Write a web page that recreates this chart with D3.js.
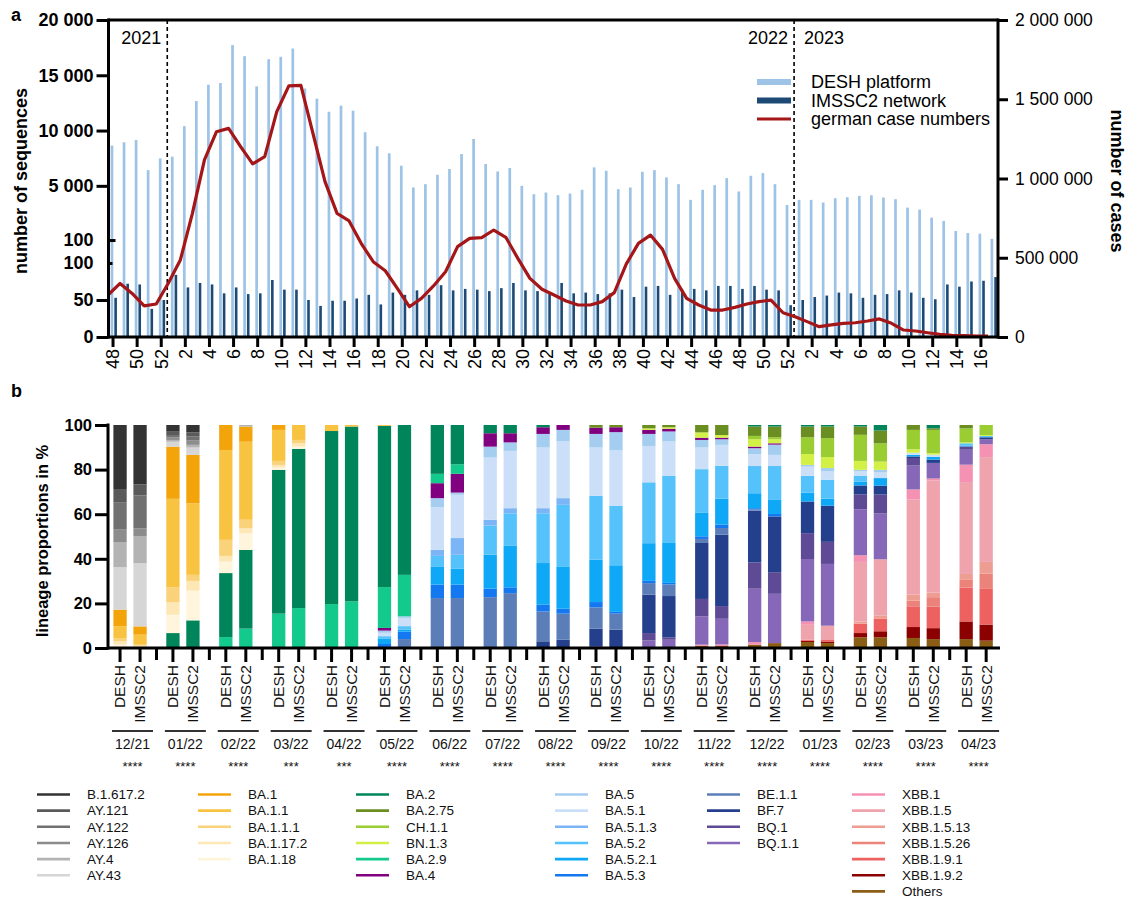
<!DOCTYPE html>
<html>
<head>
<meta charset="utf-8">
<script src="https://cdn.jsdelivr.net/npm/d3@7"></script>
<style>
  body { margin: 0; background: #fff; }
  svg { font-family: "Liberation Sans", Arial, sans-serif; }
</style>
</head>
<body>
<svg id="chart" width="1129" height="899"></svg>
<script>
// ---------- Panel a: weekly sequences and case numbers ----------
// calendar weeks: 2021 w48-52, 2022 w1-52, 2023 w1-17
const weekNumbers = [48,49,50,51,52,
  1,2,3,4,5,6,7,8,9,10,11,12,13,14,15,16,17,18,19,20,21,22,23,24,25,26,
  27,28,29,30,31,32,33,34,35,36,37,38,39,40,41,42,43,44,45,46,47,48,49,50,51,52,
  1,2,3,4,5,6,7,8,9,10,11,12,13,14,15,16,17];
const yearNames = ["2021", "2022", "2023"];

// sequences per week, DESH platform
const deshSequences = [8640,8940,9150,6420,7480,
  7640,10400,12670,14150,14300,17730,16730,14000,16450,16670,17420,13800,12880,11700,12250,11800,
  9850,8580,7940,6820,4850,5150,6000,6520,7880,9240,6970,6300,6610,5000,4240,4390,4150,4300,4640,
  6670,6360,4700,4850,6270,6420,5760,5150,3730,4640,5060,5700,4490,
  5910,6150,5150,3270,3730,3730,3490,3880,3970,4090,4150,3940,3790,3030,2850,2120,1820,910,730,670,210];

// sequences per week, IMSSC2 network
const imsscSequences = [53,72,71,38,50,
  84,67,73,71,59,67,58,59,77,64,64,50,42,49,49,52,
  57,44,60,57,63,57,70,63,65,64,62,66,73,63,62,58,73,59,60,
  58,59,64,54,68,69,57,63,65,63,69,69,65,
  69,64,63,43,50,54,56,60,59,53,57,58,63,60,53,51,71,68,75,76,81];

// reported weekly cases in Germany
const germanCases = [265000,338000,275000,196000,208000,
  339000,486000,780000,1117000,1295000,1316000,1201000,1092000,1138000,1422000,1584000,1588000,1285000,980000,780000,732000,
  591000,475000,418000,307000,191000,244000,322000,412000,570000,622000,627000,675000,629000,496000,370000,
  301000,265000,227000,202000,202000,223000,280000,461000,591000,643000,553000,370000,244000,202000,
  170000,170000,187000,208000,223000,233000,153000,128000,97000,65000,76000,86000,90000,101000,114000,
  86000,44000,38000,27000,17000,10500,8400,6300,5000];

const seqTicksUpper = [100, 5000, 10000, 15000, 20000];
const seqTicksLower = [0, 50, 100];
const caseTicks = [0, 500000, 1000000, 1500000, 2000000];

// ---------- Panel b: lineage proportions per month ----------
const lineages = ["B.1.617.2","AY.121","AY.122","AY.126","AY.4","AY.43",
  "BA.1","BA.1.1","BA.1.1.1","BA.1.17.2","BA.1.18",
  "BA.2","BA.2.75","CH.1.1","BN.1.3","BA.2.9","BA.4",
  "BA.5","BA.5.1","BA.5.1.3","BA.5.2","BA.5.2.1","BA.5.3",
  "BE.1.1","BF.7","BQ.1","BQ.1.1",
  "XBB.1","XBB.1.5","XBB.1.5.13","XBB.1.5.26","XBB.1.9.1","XBB.1.9.2","Others"];
const lineageColors = ["#333333","#5a5a5a","#717171","#8c8c8c","#b3b3b3","#d6d6d6",
  "#f3a40b","#f8c341","#fad27a","#fce7b5","#fef5dc",
  "#00855a","#6b8e23","#9acd32","#d2f046","#13c98b","#800080",
  "#a5cdf0","#cbe0f8","#7cb5f6","#56c2fb","#0ea8f6","#1479f1",
  "#5b7eb8","#243f8b","#5e4a95","#8767b8",
  "#f592b3","#eea3ad","#ee9d93","#eb837a","#ee6161","#8b0000","#8b5e16"];
const legendColumnSizes = [6, 5, 6, 6, 4, 7];

const months = ["12/21","01/22","02/22","03/22","04/22","05/22","06/22","07/22","08/22",
  "09/22","10/22","11/22","12/22","01/23","02/23","03/23","04/23"];
const significance = ["****","****","****","***","***","****","****","****","****",
  "****","****","****","****","****","****","****","****"];
const sources = ["DESH", "IMSSC2"];

// lineage shares in % per month, DESH
const deshShares = [
  {"B.1.617.2":28.7,"AY.121":5.9,"AY.122":12.1,"AY.126":5.8,"AY.4":11.2,"AY.43":19.1,"BA.1":7.5,"BA.1.1":5.2,"BA.1.1.1":1.5,"BA.1.17.2":1.5,"BA.1.18":1.5},
  {"B.1.617.2":3,"AY.121":1.5,"AY.122":1,"AY.126":1.2,"AY.4":0.8,"AY.43":2.2,"BA.1":23.4,"BA.1.1":39.7,"BA.1.1.1":6.6,"BA.1.17.2":5.7,"BA.1.18":8.2,"BA.2":6.7},
  {"BA.1":11.2,"BA.1.1":40.3,"BA.1.1.1":7.2,"BA.1.17.2":2.5,"BA.1.18":5.2,"BA.2":28.7,"BA.2.9":4.9},
  {"BA.1":2.2,"BA.1.1":13.9,"BA.1.1.1":1.8,"BA.1.17.2":1.2,"BA.1.18":1.0,"BA.2":64.5,"BA.2.9":15.4},
  {"BA.1.1":2.7,"BA.2":77.6,"BA.2.9":19.7},
  {"BA.1.1":0.4,"BA.2":72.3,"BA.2.9":18.3,"BA.4":1.2,"BA.5":1.0,"BA.5.1":1.5,"BA.5.2":1.0,"BA.5.2.1":2.5,"BA.5.3":1.5,"BE.1.1":0.3},
  {"BA.2":21.9,"BA.2.9":4.2,"BA.4":6.7,"BA.5":4.1,"BA.5.1":19.1,"BA.5.1.3":2.7,"BA.5.2":4.7,"BA.5.2.1":8.2,"BA.5.3":6.0,"BE.1.1":22.4},
  {"BA.2":3.7,"BA.4":6.0,"BA.5":4.9,"BA.5.1":27.9,"BA.5.1.3":2.6,"BA.5.2":13.1,"BA.5.2.1":15.2,"BA.5.3":3.8,"BE.1.1":22.8},
  {"BA.2":1.0,"BA.4":3.0,"BA.5":6.1,"BA.5.1":27.2,"BA.5.1.3":2.3,"BA.5.2":22.3,"BA.5.2.1":18.7,"BA.5.3":3.0,"BE.1.1":13.4,"BF.7":3.0},
  {"BA.2.75":1.2,"BA.4":2.8,"BA.5":6.1,"BA.5.1":21.7,"BA.5.2":28.6,"BA.5.2.1":19.0,"BA.5.3":2.4,"BE.1.1":9.5,"BF.7":7.9,"BQ.1":0.8},
  {"BA.2.75":1.5,"BN.1.3":0.7,"BA.4":1.8,"BA.5":5.4,"BA.5.1":16.3,"BA.5.2":27.3,"BA.5.2.1":16.9,"BA.5.3":1.0,"BE.1.1":5.2,"BF.7":17.2,"BQ.1":3.3,"BQ.1.1":3.4},
  {"BA.2.75":3.3,"BN.1.3":2.4,"BA.4":1.0,"BA.5":3.4,"BA.5.1":9.7,"BA.5.2":19.4,"BA.5.2.1":10.7,"BA.5.3":1.2,"BE.1.1":1.8,"BF.7":25.1,"BQ.1":7.8,"BQ.1.1":12.7,"XBB.1":0.5,"Others":1.0},
  {"BA.2":0.7,"BA.2.75":4.2,"CH.1.1":1.5,"BN.1.3":3.3,"BA.4":0.7,"BA.5":2.6,"BA.5.1":5.4,"BA.5.2":12.2,"BA.5.2.1":6.7,"BA.5.3":0.5,"BE.1.1":0.6,"BF.7":23.2,"BQ.1":11.8,"BQ.1.1":23.9,"XBB.1":1.2,"Others":1.5},
  {"BA.2":0.7,"BA.2.75":4.8,"CH.1.1":7.5,"BN.1.3":4.9,"BA.5":0.8,"BA.5.1":4.1,"BA.5.2":7.5,"BA.5.2.1":4.0,"BF.7":14.2,"BQ.1":11.6,"BQ.1.1":28.0,"XBB.1":1.5,"XBB.1.5":6.7,"XBB.1.9.1":0.5,"XBB.1.9.2":0.5,"Others":2.7},
  {"BA.2":0.7,"BA.2.75":3.7,"CH.1.1":11.7,"BN.1.3":4.0,"BA.5":0.7,"BA.5.1":1.9,"BA.5.2":2.8,"BA.5.2.1":1.6,"BF.7":4.0,"BQ.1":6.7,"BQ.1.1":20.6,"XBB.1":3.0,"XBB.1.5":26.7,"XBB.1.5.13":1.0,"XBB.1.9.1":4.2,"XBB.1.9.2":1.9,"Others":4.8},
  {"BA.2.75":2.2,"CH.1.1":8.7,"BN.1.3":1.5,"BA.5.1":1.0,"BA.5.2.1":0.7,"BF.7":0.7,"BQ.1":3.4,"BQ.1.1":10.7,"XBB.1":4.5,"XBB.1.5":42.7,"XBB.1.5.13":2.7,"XBB.1.5.26":2.5,"XBB.1.9.1":9.3,"XBB.1.9.2":4.9,"Others":4.5},
  {"BA.2.75":1.5,"CH.1.1":6.3,"BN.1.3":0.4,"BA.5.2":1.0,"BA.5.2.1":0.4,"BQ.1":1.5,"BQ.1.1":6.7,"XBB.1":7.8,"XBB.1.5":41.2,"XBB.1.5.13":2.4,"XBB.1.5.26":3.7,"XBB.1.9.1":15.2,"XBB.1.9.2":7.9,"Others":4.0}
];

// lineage shares in % per month, IMSSC2
const imsscShares = [
  {"B.1.617.2":26.6,"AY.121":5.0,"AY.122":14.7,"AY.126":3.7,"AY.4":11.9,"AY.43":28.4,"BA.1":3.7,"BA.1.1":4.5,"BA.1.1.1":0.5,"BA.1.17.2":0.5,"BA.1.18":0.5},
  {"B.1.617.2":3.3,"AY.121":1.9,"AY.122":1.8,"AY.126":1.9,"AY.4":1.2,"AY.43":3.3,"BA.1":21.7,"BA.1.1":32.1,"BA.1.1.1":2.7,"BA.1.17.2":4.4,"BA.1.18":13.3,"BA.2":12.4},
  {"AY.4":0.7,"BA.1":6.8,"BA.1.1":35,"BA.1.1.1":3.8,"BA.1.17.2":2.2,"BA.1.18":7.5,"BA.2":35.3,"BA.2.9":8.7},
  {"BA.1.1":6.7,"BA.1.1.1":1.5,"BA.1.17.2":1.5,"BA.1.18":1.0,"BA.2":71.4,"BA.2.9":17.9},
  {"BA.1.1":0.7,"BA.2":78.4,"BA.2.9":20.9},
  {"BA.2":67.2,"BA.2.9":18.6,"BA.5":0.7,"BA.5.1":3.7,"BA.5.2":1.5,"BA.5.2.1":1.0,"BA.5.3":3.3,"BE.1.1":4.0},
  {"BA.2":17.6,"BA.2.9":4.3,"BA.4":8.4,"BA.5":1.0,"BA.5.1":19.4,"BA.5.1.3":7.5,"BA.5.2":6.3,"BA.5.2.1":7.1,"BA.5.3":6.0,"BE.1.1":22.4},
  {"BA.2":3.7,"BA.4":4.1,"BA.5":3.8,"BA.5.1":25.7,"BA.5.1.3":2.3,"BA.5.2":14.4,"BA.5.2.1":18.8,"BA.5.3":2.6,"BE.1.1":24.6},
  {"BA.4":2.2,"BA.5":5.0,"BA.5.1":25.6,"BA.5.1.3":3.0,"BA.5.2":27.6,"BA.5.2.1":19.0,"BA.5.3":2.2,"BE.1.1":11.7,"BF.7":3.7},
  {"BA.2.75":1.0,"BA.4":2.2,"BA.5":8.2,"BA.5.1":24.8,"BA.5.2":26.7,"BA.5.2.1":20.9,"BA.5.3":0.8,"BE.1.1":7.2,"BF.7":8.2},
  {"BA.2.75":1.0,"BN.1.3":0.7,"BA.4":1.2,"BA.5":4.5,"BA.5.1":15.3,"BA.5.2":30.2,"BA.5.2.1":17.9,"BA.5.3":0.7,"BE.1.1":5.2,"BF.7":18.6,"BQ.1":1.0,"BQ.1.1":3.7},
  {"BA.2.75":4.5,"BN.1.3":1.2,"BA.4":0.7,"BA.5":2.5,"BA.5.1":9.4,"BA.5.2":14.7,"BA.5.2.1":11.7,"BA.5.3":1.5,"BE.1.1":3.0,"BF.7":32.0,"BQ.1":5.7,"BQ.1.1":11.5,"XBB.1":0.7,"Others":0.9},
  {"BA.2":0.7,"BA.2.75":4.8,"CH.1.1":0.9,"BN.1.3":1.8,"BA.4":0.6,"BA.5":4.6,"BA.5.1":5.0,"BA.5.2":15.2,"BA.5.2.1":6.3,"BA.5.3":1.1,"BF.7":25.0,"BQ.1":9.7,"BQ.1.1":22.1,"Others":2.2},
  {"BA.2":0.7,"BA.2.75":5.2,"CH.1.1":8.5,"BN.1.3":4.9,"BA.5":1.5,"BA.5.1":3.7,"BA.5.2":8.5,"BA.5.2.1":3.2,"BF.7":16.2,"BQ.1":9.9,"BQ.1.1":27.7,"XBB.1.5":6.4,"XBB.1.9.1":0.7,"XBB.1.9.2":0.7,"Others":2.2},
  {"BA.2":2.5,"BA.2.75":5.7,"CH.1.1":8.2,"BN.1.3":3.7,"BA.5":1.2,"BA.5.1":2.5,"BA.5.2.1":3.4,"BF.7":4.0,"BQ.1":8.5,"BQ.1.1":20.5,"XBB.1.5":25.3,"XBB.1.5.13":1.3,"XBB.1.9.1":5.7,"XBB.1.9.2":2.7,"Others":4.8},
  {"BA.2":1.5,"BA.2.75":0.7,"CH.1.1":10.4,"BN.1.3":0.7,"BA.5.1":1.0,"BA.5.2.1":1.2,"BF.7":1.5,"BQ.1.1":7.0,"XBB.1":0.9,"XBB.1.5":50.2,"XBB.1.5.13":2.1,"XBB.1.5.26":4.2,"XBB.1.9.1":9.7,"XBB.1.9.2":4.9,"Others":4.0},
  {"CH.1.1":4.5,"BN.1.3":0.4,"BA.5.2":0.6,"BF.7":0.9,"BQ.1.1":2.2,"XBB.1":5.8,"XBB.1.5":47.0,"XBB.1.5.13":5.2,"XBB.1.5.26":6.9,"XBB.1.9.1":16.0,"XBB.1.9.2":7.2,"Others":3.3}
];

// ====================================================================
const svg = d3.select("#chart");
const fmt = d3.formatLocale({decimal: ".", thousands: " ", grouping: [3], currency: ["", ""]}).format(",");
const lightBlue = "#9dc3e6", navy = "#1d4a75", caseRed = "#a51618";

// ---------------- panel a ----------------
const aLeft = 108.5, aRight = 998, aTop = 20, aBottom = 337;
const xA = d3.scaleBand().domain(d3.range(weekNumbers.length)).range([107, 999]);
const cx = i => xA(i) + xA.step() / 2;
const yUp = d3.scaleLinear().domain([100, 20000]).range([240, aTop]);
const yLow = d3.scaleLinear().domain([0, 100]).range([aBottom, 263]);
const yCases = d3.scaleLinear().domain([0, 2000000]).range([aBottom, aTop]);

const gA = svg.append("g");

// DESH bars (upper segment scale)
gA.append("g").selectAll("rect").data(deshSequences).join("rect")
  .attr("x", (d, i) => cx(i) - 2.4).attr("width", 2.7)
  .attr("y", d => yUp(d)).attr("height", d => aBottom - yUp(d))
  .attr("fill", lightBlue);

// IMSSC2 bars (lower segment scale)
gA.append("g").selectAll("rect").data(imsscSequences).join("rect")
  .attr("x", (d, i) => cx(i) + 1.3).attr("width", 2.6)
  .attr("y", d => yLow(d)).attr("height", d => aBottom - yLow(d))
  .attr("fill", navy);

// year boundaries
const yearStarts = weekNumbers.map((w, i) => (w === 1 ? i : -1)).filter(i => i > 0);
yearStarts.forEach(i => {
  gA.append("line").attr("x1", xA(i)).attr("x2", xA(i)).attr("y1", aTop).attr("y2", aBottom)
    .attr("stroke", "#000").attr("stroke-width", 1.6).attr("stroke-dasharray", "4,3");
});
gA.append("text").attr("x", xA(yearStarts[0]) - 6).attr("y", 44).attr("text-anchor", "end")
  .attr("font-size", 18).text(yearNames[0]);
gA.append("text").attr("x", xA(yearStarts[1]) - 6).attr("y", 44).attr("text-anchor", "end")
  .attr("font-size", 18).text(yearNames[1]);
gA.append("text").attr("x", xA(yearStarts[1]) + 10).attr("y", 44)
  .attr("font-size", 18).text(yearNames[2]);

// case line
const caseLine = d3.line().x((d, i) => cx(i) - 5).y(d => yCases(d));
gA.append("path").datum(germanCases).attr("d", caseLine)
  .attr("fill", "none").attr("stroke", caseRed).attr("stroke-width", 3.2)
  .attr("stroke-linejoin", "round");

// frame
gA.append("line").attr("x1", aLeft).attr("x2", aRight).attr("y1", aTop).attr("y2", aTop)
  .attr("stroke", "#000").attr("stroke-width", 3);
gA.append("line").attr("x1", aLeft).attr("x2", aRight).attr("y1", aBottom).attr("y2", aBottom)
  .attr("stroke", "#000").attr("stroke-width", 3);

function styleAxis(g, bold, size) {
  g.select(".domain").remove();
  g.selectAll(".tick line").attr("stroke", "#000").attr("stroke-width", 3);
  g.selectAll(".tick text").attr("font-size", size).attr("font-weight", bold ? "bold" : "normal")
    .attr("fill", "#000").attr("font-family", "Liberation Sans, Arial, sans-serif");
}

// left axis, two segments; the segment ends cross into the plot
gA.append("g").attr("transform", `translate(${aLeft},0)`)
  .call(d3.axisLeft(yUp).tickValues(seqTicksUpper).tickFormat(fmt).tickSize(12).tickPadding(3))
  .call(g => styleAxis(g, true, 18))
  .call(g => g.selectAll(".tick line").filter(d => d === 100).attr("x2", 7));
gA.append("g").attr("transform", `translate(${aLeft},0)`)
  .call(d3.axisLeft(yLow).tickValues(seqTicksLower).tickFormat(fmt).tickSize(12).tickPadding(3))
  .call(g => styleAxis(g, true, 18))
  .call(g => g.selectAll(".tick line").filter(d => d === 100).attr("x2", 4));
gA.append("line").attr("x1", aLeft).attr("x2", aLeft).attr("y1", aTop - 1.5).attr("y2", aBottom + 1.5)
  .attr("stroke", "#000").attr("stroke-width", 3);

// right axis
gA.append("g").attr("transform", `translate(${aRight},0)`)
  .call(d3.axisRight(yCases).tickValues(caseTicks).tickFormat(fmt).tickSize(10).tickPadding(7))
  .call(g => styleAxis(g, false, 17.5));
gA.append("line").attr("x1", aRight).attr("x2", aRight).attr("y1", aTop - 1.5).attr("y2", aBottom + 1.5)
  .attr("stroke", "#000").attr("stroke-width", 3);

// week axis
const weekTicks = d3.range(0, weekNumbers.length, 2);
gA.append("g").attr("transform", `translate(0,${aBottom})`)
  .call(d3.axisBottom(xA).tickValues(weekTicks).tickFormat(i => weekNumbers[i]).tickSize(10))
  .call(g => styleAxis(g, false, 18))
  .call(g => g.selectAll(".tick text")
    .attr("transform", "rotate(-90)").attr("text-anchor", "end")
    .attr("x", -12).attr("y", 0).attr("dy", "0.35em"));

// axis titles
gA.append("text").attr("transform", "translate(27,181) rotate(-90)").attr("text-anchor", "middle")
  .attr("font-size", 18).attr("font-weight", "bold").text("number of sequences");
gA.append("text").attr("transform", "translate(1111,181) rotate(90)").attr("text-anchor", "middle")
  .attr("font-size", 18).attr("font-weight", "bold").text("number of cases");
svg.append("text").attr("x", 11).attr("y", 21).attr("font-size", 18).attr("font-weight", "bold").text("a");

// legend a
const legA = [
  {label: "DESH platform", color: lightBlue, kind: "bar"},
  {label: "IMSSC2 network", color: navy, kind: "bar"},
  {label: "german case numbers", color: caseRed, kind: "line"}
];
legA.forEach((d, i) => {
  const y = 82 + i * 18.5;
  gA.append("line").attr("x1", 757).attr("x2", 791).attr("y1", y).attr("y2", y)
    .attr("stroke", d.color).attr("stroke-width", d.kind === "bar" ? 6 : 3);
  gA.append("text").attr("x", 811).attr("y", y).attr("dy", "0.35em").attr("font-size", 18).text(d.label);
});

// ---------------- panel b ----------------
const bLeft = 108, bBottom = 648;
const x0 = d3.scaleBand().domain(months).range([107, 1006]);
const x1 = d3.scaleBand().domain(sources).range([-3.6, 49.7]).paddingInner(0.335).paddingOuter(0.5);
const yB = d3.scaleLinear().domain([0, 100]).range([bBottom, 425]);
const color = d3.scaleOrdinal().domain(lineages).range(lineageColors);

const barRows = [];
months.forEach((m, i) => {
  barRows.push(Object.assign({month: m, source: "DESH"}, deshShares[i]));
  barRows.push(Object.assign({month: m, source: "IMSSC2"}, imsscShares[i]));
});
const stackKeys = lineages.slice().reverse();
const stacked = d3.stack().keys(stackKeys).value((d, k) => d[k] || 0)(barRows);

const gB = svg.append("g");
gB.append("g").selectAll("g").data(stacked).join("g")
  .attr("fill", s => color(s.key))
  .selectAll("rect").data(s => s.filter(p => p[1] - p[0] > 0)).join("rect")
  .attr("x", p => x0(p.data.month) + x1(p.data.source))
  .attr("width", x1.bandwidth())
  .attr("y", p => yB(p[1]))
  .attr("height", p => yB(p[0]) - yB(p[1]));

// y axis
gB.append("g").attr("transform", `translate(${bLeft},0)`)
  .call(d3.axisLeft(yB).tickValues([0, 20, 40, 60, 80, 100]).tickSize(13).tickPadding(3))
  .call(g => styleAxis(g, true, 16.5));
gB.append("line").attr("x1", bLeft).attr("x2", bLeft).attr("y1", 423.5).attr("y2", bBottom + 1.5)
  .attr("stroke", "#000").attr("stroke-width", 3);
gB.append("line").attr("x1", bLeft).attr("x2", 1000).attr("y1", bBottom).attr("y2", bBottom)
  .attr("stroke", "#000").attr("stroke-width", 3);

// bar ticks, labels and month groups
months.forEach((m, i) => {
  const gx = x0(m);
  sources.forEach(s => {
    const tx = gx + x1(s) + x1.bandwidth() / 2;
    gB.append("line").attr("x1", tx).attr("x2", tx).attr("y1", bBottom).attr("y2", bBottom + 14)
      .attr("stroke", "#000").attr("stroke-width", 3);
    gB.append("text").attr("transform", `translate(${tx},${bBottom + 17}) rotate(-90)`)
      .attr("text-anchor", "end").attr("dy", "0.35em").attr("font-size", 15.5).attr("fill", "#111").text(s);
  });
  if (i < months.length - 1) {
    const sx = gx + x0.bandwidth() - 3.4;
    gB.append("line").attr("x1", sx).attr("x2", sx).attr("y1", bBottom).attr("y2", bBottom + 12)
      .attr("stroke", "#000").attr("stroke-width", 3);
  }
  gB.append("line").attr("x1", gx + 5).attr("x2", gx + 46).attr("y1", 731).attr("y2", 731)
    .attr("stroke", "#333").attr("stroke-width", 2.2);
  gB.append("text").attr("x", gx + 25.5).attr("y", 749).attr("text-anchor", "middle")
    .attr("font-size", 14).attr("fill", "#111").text(m);
  gB.append("text").attr("x", gx + 25.5).attr("y", 771).attr("text-anchor", "middle")
    .attr("font-size", 13).attr("fill", "#111").text(significance[i]);
});

gB.append("text").attr("transform", "translate(48,541) rotate(-90)").attr("text-anchor", "middle")
  .attr("font-size", 16.5).attr("font-weight", "bold").text("lineage proportions in %");
svg.append("text").attr("x", 11).attr("y", 397).attr("font-size", 18).attr("font-weight", "bold").text("b");

// legend b
const colX = [37, 198, 356, 555, 707, 852];
let idx = 0;
legendColumnSizes.forEach((n, c) => {
  for (let r = 0; r < n; r++, idx++) {
    const name = lineages[idx];
    const y = 794.5 + r * 16.15;
    gB.append("line").attr("x1", colX[c]).attr("x2", colX[c] + 33).attr("y1", y).attr("y2", y)
      .attr("stroke", color(name)).attr("stroke-width", 2.6);
    gB.append("text").attr("x", colX[c] + 50).attr("y", y).attr("dy", "0.35em")
      .attr("font-size", 13.5).attr("fill", "#111").text(name);
  }
});
</script>
</body>
</html>
